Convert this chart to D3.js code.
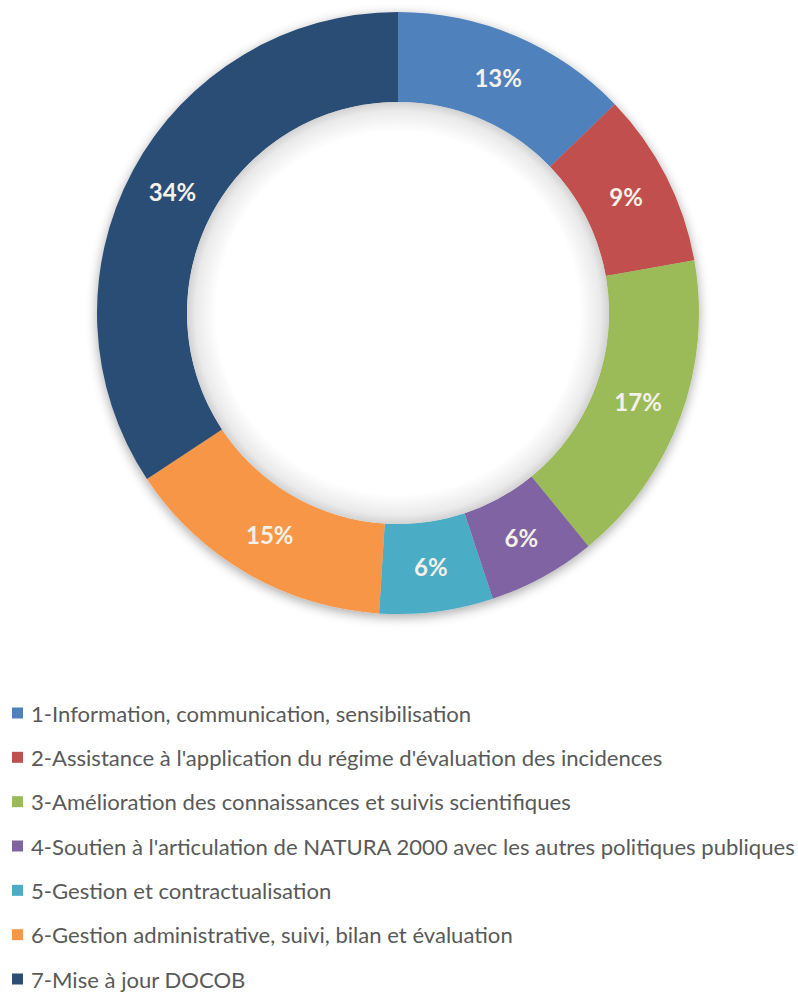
<!DOCTYPE html>
<html><head><meta charset="utf-8">
<script src="https://cdn.jsdelivr.net/npm/d3@7"></script>
<style>body{margin:0;background:#fff;}svg{display:block;}</style>
</head><body>
<script>
const categories = [
  "1-Information, communication, sensibilisation",
  "2-Assistance à l'application du régime d'évaluation des incidences",
  "3-Amélioration des connaissances et suivis scientifiques",
  "4-Soutien à l'articulation de NATURA 2000 avec les autres politiques publiques",
  "5-Gestion et contractualisation",
  "6-Gestion administrative, suivi, bilan et évaluation",
  "7-Mise à jour DOCOB"
];
const values = [12.8, 9.4, 16.9, 5.8, 6.1, 14.7, 34.3];
const colors = ["#4F81BD", "#C0504D", "#9BBB59", "#8064A2", "#4BACC6", "#F79646", "#2C4D75"];

const W = 798, H = 994;
const cx = 398, cy = 313, rOut = 301, rIn = 211;
const svg = d3.select("body").append("svg").attr("width", W).attr("height", H);
const defs = svg.append("defs");
const f = defs.append("filter").attr("id","sh").attr("x","-20%").attr("y","-20%").attr("width","140%").attr("height","140%");
f.append("feGaussianBlur").attr("in","SourceAlpha").attr("stdDeviation",6).attr("result","b");
f.append("feOffset").attr("in","b").attr("dx",0).attr("dy",3).attr("result","o");
f.append("feComponentTransfer").attr("in","o").attr("result","o2").append("feFuncA").attr("type","linear").attr("slope",0.35);
const m = f.append("feMerge"); m.append("feMergeNode").attr("in","o2"); m.append("feMergeNode").attr("in","SourceGraphic");
const rg = defs.append("radialGradient").attr("id","hole").attr("cx","50%").attr("cy","50%").attr("r","50%");
rg.append("stop").attr("offset","86%").attr("stop-color","#ffffff");
rg.append("stop").attr("offset","96%").attr("stop-color","#eaeaea");
rg.append("stop").attr("offset","100%").attr("stop-color","#d2d2d2");

const total = d3.sum(values);
const pie = d3.pie().sort(null).value(d => d)(values);
const arc = d3.arc().innerRadius(rIn).outerRadius(rOut);
const lab = d3.arc().innerRadius((rIn+rOut)/2).outerRadius((rIn+rOut)/2);
const g = svg.append("g").attr("transform", `translate(${cx},${cy})`);
g.append("g").attr("filter","url(#sh)").selectAll("path").data(pie).join("path")
  .attr("d", arc).attr("fill", (d,i) => colors[i]);
g.append("circle").attr("r", rIn).attr("fill","url(#hole)");
g.selectAll("text").data(pie).join("text")
  .attr("transform", d => `translate(${lab.centroid(d)})`)
  .attr("text-anchor","middle").attr("dominant-baseline","central")
  .attr("font-family","Lato, 'Open Sans', sans-serif").attr("font-weight","bold")
  .attr("font-size", 24).attr("fill","#F4F1E8")
  .text(d => Math.round(d.value/total*100) + "%");

const leg = svg.append("g");
const rowY = d3.scalePoint().domain(d3.range(categories.length)).range([713, 979]);
const items = leg.selectAll("g").data(categories).join("g").attr("transform", (d,i) => `translate(0,${rowY(i)})`);
items.append("rect").attr("x",12).attr("y",-5.5).attr("width",11).attr("height",11).attr("fill",(d,i)=>colors[i]);
const texts = items.append("text").attr("x",31).attr("dominant-baseline","central")
  .attr("font-family","Lato, 'Open Sans', sans-serif").attr("font-size",19).attr("fill","#595959")
  .text(d => d);
const w4 = texts.nodes()[3].getComputedTextLength();
const fs = 19 * 764 / w4;
texts.attr("font-size", fs);
</script>
</body></html>
